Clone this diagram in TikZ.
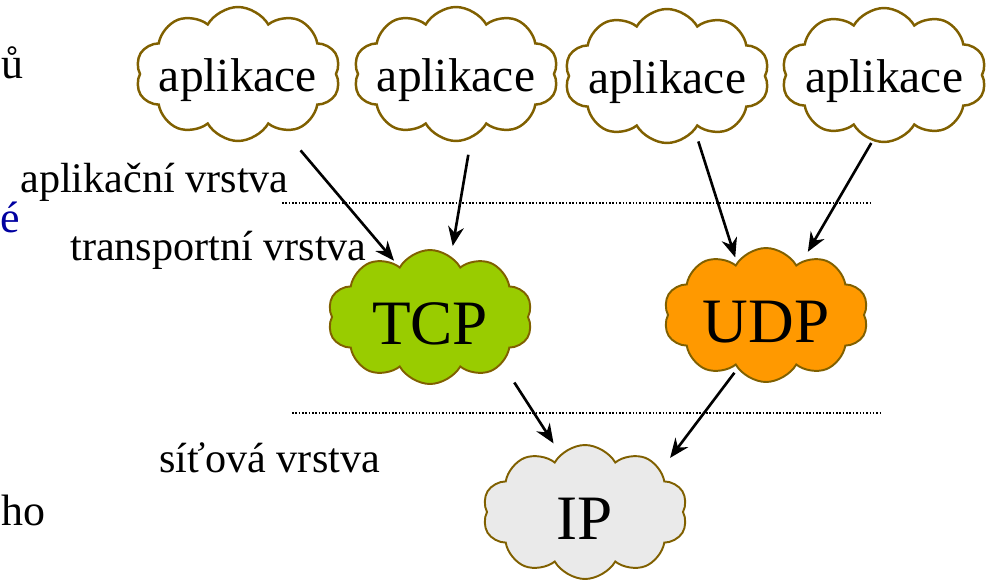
\documentclass[tikz,border=0pt]{standalone}
\usepackage{fontspec}
\setmainfont{Liberation Serif}
\usetikzlibrary{shapes.symbols, arrows.meta}
\definecolor{cloudline}{RGB}{128,96,0}
\definecolor{tcpgreen}{RGB}{153,204,0}
\definecolor{udporange}{RGB}{255,153,0}
\definecolor{ipgray}{RGB}{234,234,234}
\definecolor{slideblue}{RGB}{0,0,160}
\tikzstyle{appcloud} = [cloud, cloud puffs=10, cloud puff arc=120, cloud ignores aspect, minimum width=4.1cm, minimum height=2.68cm, inner sep=0pt, draw=cloudline, line width=1.4pt, fill=white, text height=0.7cm, text depth=0pt, font=\fontsize{27pt}{30pt}\selectfont]
\tikzstyle{protocloud} = [appcloud, line width=1.1pt, text height=1.1cm, font=\fontsize{36pt}{40pt}\selectfont]
\tikzstyle{layer} = [anchor=base west, inner sep=0pt, font=\fontsize{24pt}{28pt}\selectfont]
\tikzstyle{cut} = [anchor=base east, inner sep=0pt, font=\fontsize{25pt}{30pt}\selectfont]
\tikzstyle{arrow} = [line width=1.5pt, -{Stealth[length=11pt,width=9pt]}]
\tikzstyle{divider} = [densely dotted, line width=0.9pt]

\begin{document}
\begin{tikzpicture}[x=0.02cm, y=-0.02cm]
        \useasboundingbox (0,0) rectangle (989,581);
        
        \node (app1) [appcloud] at (238,74) {\makebox[0pt]{aplikace}};
        \node (app2) [appcloud] at (456,74) {\makebox[0pt]{aplikace}};
        \node (app3) [appcloud] at (667,76) {\makebox[0pt]{aplikace}};
        \node (app4) [appcloud] at (884,75) {\makebox[0pt]{aplikace}};
        \node (tcp) [protocloud, fill=tcpgreen] at (430,317) {\makebox[0pt]{TCP}};
        \node (udp) [protocloud, fill=udporange] at (766,315) {\makebox[0pt]{UDP}};
        \node (ip) [protocloud, fill=ipgray] at (585,512) {\makebox[0pt]{IP}};
        
        \node (appl) [layer] at (20,192) {aplikační vrstva};
        \node (transl) [layer] at (70,260) {transportní vrstva};
        \node (netl) [layer] at (159,472) {síťová vrstva};
        
        \node (cuta) [cut] at (24,78) {ů};
        \node (cutb) [cut, text=slideblue] at (20,232) {é};
        \node (cutc) [cut] at (46,525) {ho};
        
        \draw [divider] (282,203) -- (872,203);
        \draw [divider] (292,413) -- (882,413);
        
        \draw [arrow, shorten <=0.5cm, shorten >=0.1cm] (app1.-51) -- (tcp.122);
        \draw [arrow, shorten <=0.32cm, shorten >=0.2cm] (app2.-77) -- (tcp.71);
        \draw [arrow, shorten <=0.22cm, shorten >=0.1cm] (app3.-63) -- (udp.119);
        \draw [arrow, shorten <=0.04cm, shorten >=0.2cm] (app4.-100) -- (udp.56);
        \draw [arrow, shorten <=0.44cm, shorten >=0.25cm] (tcp.-33) -- (ip.113);
        \draw [arrow, shorten <=0.1cm, shorten >=0.3cm] (udp.-118) -- (ip.29);
        % angles measured upward from east
        
\end{tikzpicture}
\end{document}
